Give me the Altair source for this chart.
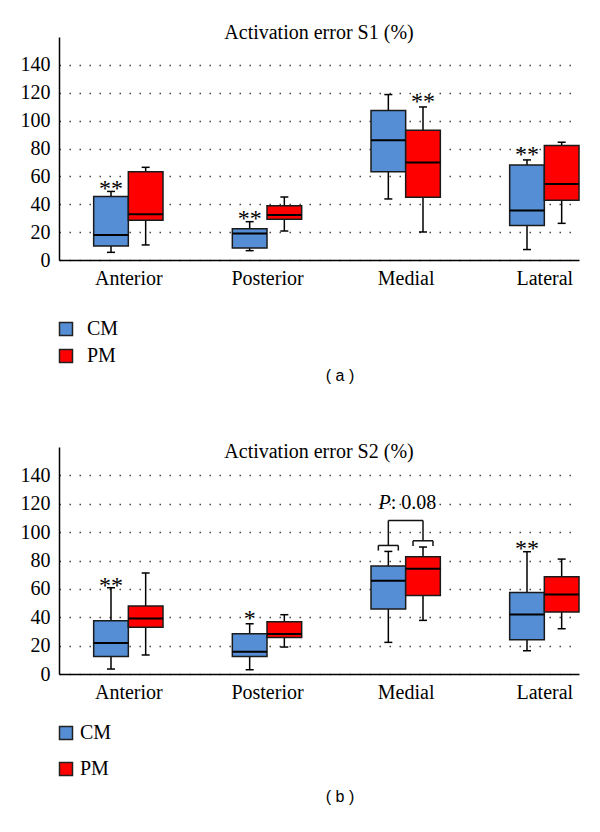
import json
import altair as alt
import pandas as pd

# ---------------- data ----------------
categories = ["Anterior", "Posterior", "Medial", "Lateral"]
groups = ["CM", "PM"]
colors = ["#558ED5", "#FF0000"]

# Panel (a): Activation error S1 (%)
s1_cm_low = [5.5, 6.7, 43.8, 7.5]
s1_cm_q1 = [10.0, 8.6, 63.4, 24.7]
s1_cm_med = [18.0, 19.0, 85.9, 35.5]
s1_cm_q3 = [45.5, 22.5, 107.2, 68.2]
s1_cm_high = [49.2, 27.5, 118.7, 71.8]
s1_pm_low = [10.8, 20.8, 20.1, 26.3]
s1_pm_q1 = [28.5, 29.2, 45.0, 42.9]
s1_pm_med = [32.8, 32.3, 69.9, 54.6]
s1_pm_q3 = [63.4, 39.0, 93.1, 82.1]
s1_pm_high = [66.5, 45.2, 109.8, 84.5]

# Panel (b): Activation error S2 (%)
s2_cm_low = [3.5, 3.0, 22.3, 16.4]
s2_cm_q1 = [12.4, 12.4, 45.8, 24.2]
s2_cm_med = [21.8, 15.7, 65.7, 42.0]
s2_cm_q3 = [37.6, 28.4, 76.1, 57.5]
s2_cm_high = [60.8, 35.4, 86.4, 86.2]
s2_pm_low = [13.4, 19.0, 37.8, 31.9]
s2_pm_q1 = [32.9, 25.8, 55.4, 43.7]
s2_pm_med = [39.2, 28.2, 74.2, 56.1]
s2_pm_q3 = [47.9, 36.9, 82.7, 68.6]
s2_pm_high = [71.2, 41.8, 89.5, 81.0]

# significance marks
s1_star_cat = ["Anterior", "Posterior", "Medial", "Lateral"]
s1_star_group = ["CM", "CM", "PM", "CM"]
s1_star_text = ["**", "**", "**", "**"]
s1_star_y = [55.0, 33.5, 118.0, 80.0]

s2_star_cat = ["Anterior", "Posterior", "Lateral"]
s2_star_group = ["CM", "CM", "CM"]
s2_star_text = ["**", "*", "**"]
s2_star_y = [66.0, 43.0, 92.3]

# P-value bracket on Medial (panel b)
p_category = "Medial"
p_value_text = ": 0.08"
p_text_y = 116.3
bracket_top = 108.2
bracket_cm = 90.6
bracket_pm = 93.9
bracket_drop = 3.6

y_ticks = [0, 20, 40, 60, 80, 100, 120, 140]
y_max = 160

# ---------------- layout / style constants ----------------
SERIF = "Liberation Serif"
SANS = "Liberation Sans"
FS = 20
SHIFT = {"CM": -0.125, "PM": 0.125}
HALF = 0.125
BR_HALF = 0.072
X_DOMAIN = [-0.5, 3.25]
W = 520


def box_frame(lo_cm, q1_cm, med_cm, q3_cm, hi_cm, lo_pm, q1_pm, med_pm, q3_pm, hi_pm):
    rows = []
    for i, cat in enumerate(categories):
        for g, (lo, q1, me, q3, hi) in zip(
            groups,
            [(lo_cm[i], q1_cm[i], med_cm[i], q3_cm[i], hi_cm[i]),
             (lo_pm[i], q1_pm[i], med_pm[i], q3_pm[i], hi_pm[i])],
        ):
            c = i + SHIFT[g]
            rows.append(dict(cat=cat, group=g, center=c, left=c - HALF, right=c + HALF,
                             low=lo, q1=q1, med=me, q3=q3, high=hi))
    return pd.DataFrame(rows)


def star_frame(cats, grps, texts, ys):
    return pd.DataFrame(dict(
        x=[categories.index(c) + SHIFT[g] for c, g in zip(cats, grps)],
        y=ys, t=texts))


label_expr = json.dumps(categories) + "[datum.value]"

x_scale = alt.Scale(domain=X_DOMAIN, nice=False, zero=False)
y_scale = alt.Scale(domain=[0, y_max], nice=False, zero=True)

x_axis = alt.Axis(values=[0, 1, 2, 3], labelExpr=label_expr, title=None, grid=False,
                  ticks=False, tickSize=0, labelPadding=8, labelFont=SERIF, labelFontSize=FS,
                  labelColor="black", domainColor="black", domainWidth=1.5, labelFlush=False,
                  labelOverlap=False)
y_axis = alt.Axis(values=y_ticks, title=None, grid=True,
                  gridDash=[1.5, 8.5], gridColor="#444",
                  gridWidth=1.5, ticks=False, tickSize=0, labelPadding=9, labelFont=SERIF,
                  labelFontSize=FS, labelColor="black", domainColor="black", domainWidth=1.5,
                  labelOverlap=False, labelFlush=False, labelBound=False)


def xq(field):
    return alt.X(field, scale=x_scale, axis=x_axis)


def yq(field):
    return alt.Y(field, scale=y_scale, axis=y_axis)


def panel(df, stars, title, height, title_off, legend_y, legend_row_pad, legend_label_off,
          tag, tag_y, extra=None):
    base = alt.Chart(df)
    whisk = base.mark_rule(color="black", strokeWidth=1.5).encode(
        x=xq("center:Q"), y=yq("low:Q"), y2="high:Q")
    caps_df = pd.concat([
        df[["center", "low"]].rename(columns={"low": "v"}),
        df[["center", "high"]].rename(columns={"high": "v"}),
    ])
    caps = alt.Chart(caps_df).mark_tick(orient="horizontal", size=8, thickness=1.5,
                                        color="black", opacity=1).encode(
        x=xq("center:Q"), y=yq("v:Q"))
    boxes = base.mark_bar(stroke="#1a1a1a", strokeWidth=1.5, opacity=1).encode(
        x=xq("left:Q"),
        x2="right:Q",
        y=yq("q1:Q"),
        y2="q3:Q",
        color=alt.Color("group:N", scale=alt.Scale(domain=groups, range=colors),
                        legend=alt.Legend(title=None, orient="none", legendX=-3, legendY=legend_y,
                                          direction="vertical", symbolType="square",
                                          symbolSize=169, symbolStrokeColor="#222",
                                          symbolStrokeWidth=1.5, symbolOpacity=1,
                                          labelFont=SERIF, labelFontSize=FS, labelColor="black",
                                          rowPadding=legend_row_pad, labelOffset=legend_label_off,
                                          padding=0)),
    )
    meds = base.mark_rule(color="black", strokeWidth=2).encode(
        x=xq("left:Q"), x2="right:Q", y=yq("med:Q"))
    star = alt.Chart(stars).mark_text(font=SERIF, fontSize=24, baseline="alphabetic",
                                      dy=13, color="black").encode(
        x=xq("x:Q"), y=yq("y:Q"), text="t:N")
    tag_df = pd.DataFrame({"t": [tag]})
    tag_mark = alt.Chart(tag_df).mark_text(font=SANS, fontSize=16, color="black",
                                           baseline="middle").encode(
        x=alt.value(281), y=alt.value(tag_y), text="t:N")
    layers = [whisk, caps, boxes, meds, star]
    if extra is not None:
        layers += extra
    layers.append(tag_mark)
    return alt.layer(*layers).properties(
        width=W, height=height,
        title=alt.TitleParams(title, font=SERIF, fontSize=FS, fontWeight="normal",
                              color="black", anchor="middle", offset=title_off),
    )


df1 = box_frame(s1_cm_low, s1_cm_q1, s1_cm_med, s1_cm_q3, s1_cm_high,
                s1_pm_low, s1_pm_q1, s1_pm_med, s1_pm_q3, s1_pm_high)
df2 = box_frame(s2_cm_low, s2_cm_q1, s2_cm_med, s2_cm_q3, s2_cm_high,
                s2_pm_low, s2_pm_q1, s2_pm_med, s2_pm_q3, s2_pm_high)
st1 = star_frame(s1_star_cat, s1_star_group, s1_star_text, s1_star_y)
st2 = star_frame(s2_star_cat, s2_star_group, s2_star_text, s2_star_y)

# bracket segments (panel b)
mi = categories.index(p_category)
cmx = mi + SHIFT["CM"]
pmx = mi + SHIFT["PM"]
seg = pd.DataFrame([
    dict(x=cmx, x2=pmx, y=bracket_top, y2=bracket_top),
    dict(x=cmx, x2=cmx, y=bracket_cm, y2=bracket_top),
    dict(x=pmx, x2=pmx, y=bracket_pm, y2=bracket_top),
    dict(x=cmx - BR_HALF, x2=cmx + BR_HALF, y=bracket_cm, y2=bracket_cm),
    dict(x=cmx - BR_HALF, x2=cmx - BR_HALF, y=bracket_cm - bracket_drop, y2=bracket_cm),
    dict(x=cmx + BR_HALF, x2=cmx + BR_HALF, y=bracket_cm - bracket_drop, y2=bracket_cm),
    dict(x=pmx - BR_HALF, x2=pmx + BR_HALF, y=bracket_pm, y2=bracket_pm),
    dict(x=pmx - BR_HALF, x2=pmx - BR_HALF, y=bracket_pm - bracket_drop, y2=bracket_pm),
    dict(x=pmx + BR_HALF, x2=pmx + BR_HALF, y=bracket_pm - bracket_drop, y2=bracket_pm),
])
bracket = alt.Chart(seg).mark_rule(color="#111", strokeWidth=1.5).encode(
    x=xq("x:Q"), x2="x2:Q", y=yq("y:Q"), y2="y2:Q")
ptext_df = pd.DataFrame({"x": [mi], "y": [p_text_y], "p": ["P"], "v": [p_value_text]})
p_italic = alt.Chart(ptext_df).mark_text(font=SERIF, fontSize=FS, fontStyle="italic",
                                         align="right", baseline="alphabetic", dx=-15,
                                         color="black").encode(
    x=xq("x:Q"), y=yq("y:Q"), text="p:N")
p_value = alt.Chart(ptext_df).mark_text(font=SERIF, fontSize=FS, align="left",
                                        baseline="alphabetic", dx=-15, color="black").encode(
    x=xq("x:Q"), y=yq("y:Q"), text="v:N")

top = panel(df1, st1, "Activation error S1 (%)", 223, -6, 282, 7, 11, "( a )", 339)
bottom = panel(df2, st2, "Activation error S2 (%)", 227, -15, 276, 16, 4, "( b )", 350,
               extra=[bracket, p_italic, p_value])

chart = alt.vconcat(top, bottom, spacing=58).resolve_scale(
    color="independent").resolve_legend(color="independent").properties(
    padding={"left": 12, "top": 15, "right": 5, "bottom": 5}
).configure_view(stroke=None).configure_title(font=SERIF)

chart.save("out.html", embed_options={"renderer": "svg", "actions": False})
